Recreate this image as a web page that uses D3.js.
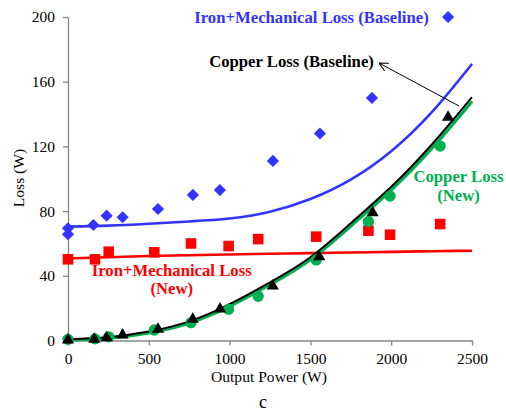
<!DOCTYPE html>
<html>
<head>
<meta charset="utf-8">
<script src="https://cdn.jsdelivr.net/npm/d3@7"></script>
<style>
  html, body { margin: 0; padding: 0; background: #fff; }
  svg { display: block; }
</style>
</head>
<body>
<svg id="chart" width="506" height="413"></svg>
<script>
// ---- measured losses (W) against output power (W) ----
const baselinePower   = [0, 0, 157, 239, 338, 557, 773, 940, 1268, 1559, 1881, 2352];
const baselineIronMech = [69.4, 65.7, 71.4, 77.2, 76.2, 81.3, 90, 93, 111, 128, 150, 200];

const baselineCuPower = [0, 163, 239, 338, 557, 772, 941, 1267, 1555, 1885, 2352];
const baselineCopper  = [0.3, 0.8, 1.7, 3.4, 6.9, 13.1, 19.5, 33.7, 51.8, 79, 138];

const newPower    = [0, 167, 252, 534, 761, 994, 1177, 1536, 1859, 1993, 2303];
const newIronMech = [50.2, 50.2, 54.9, 54.5, 60, 58.4, 62.7, 64.2, 67.9, 65.4, 72];
const newCopper   = [0.7, 1, 2.3, 6.5, 11, 19.3, 27.3, 49.8, 73.5, 89.3, 120.2];

// ---- trend lines ----
const trendPower         = [0, 250, 500, 750, 1000, 1250, 1500, 1750, 2000, 2250, 2500];
const trendIronMechBase  = [70.4, 71.0, 72.2, 73.6, 75.4, 79.6, 87.5, 99.5, 117, 141, 171];
const trendCopperBase    = [0.8, 2.0, 5.5, 11.8, 22.5, 36, 51.5, 72.5, 95, 121, 150.5];
const trendCopperNew     = [0.4, 1.5, 4.8, 10.8, 21.2, 34.6, 50.0, 70.8, 93, 118.6, 147.8];
const trendIronMechNew   = [50.7, 51.5, 52.2, 52.7, 53.2, 53.6, 54.0, 54.4, 54.8, 55.2, 55.5];

const xTicks = [0, 500, 1000, 1500, 2000, 2500];
const yTicks = [0, 40, 80, 120, 160, 200];

const BLUE = "#3333ff", RED = "#ff0000", GREEN = "#00b050", BLACK = "#000000", AXIS = "#868686";
const SERIF = '"Liberation Serif", Tinos, "Times New Roman", Times, "DejaVu Serif", serif';

const svg = d3.select("#chart").attr("font-family", SERIF);
const x = d3.scaleLinear().domain([0, 2500]).range([68, 472]);
const y = d3.scaleLinear().domain([0, 200]).range([340.5, 17]);

// axes
const gx = svg.append("g").attr("transform", `translate(0,${y(0)})`)
  .call(d3.axisBottom(x).tickValues(xTicks).tickFormat(d3.format("d"))
    .tickSize(5).tickSizeOuter(0).tickPadding(7));
const gy = svg.append("g").attr("transform", `translate(${x(0)},0)`)
  .call(d3.axisLeft(y).tickValues(yTicks).tickFormat(d3.format("d"))
    .tickSize(5).tickSizeOuter(0).tickPadding(8));
[gx, gy].forEach(g => {
  g.attr("font-family", SERIF).attr("font-size", 15.5);
  g.selectAll("path, line").attr("stroke", AXIS).attr("stroke-width", 1.3);
  g.selectAll("text").attr("fill", "#000");
});

// axis titles
svg.append("text").attr("x", 269).attr("y", 382).attr("text-anchor", "middle")
  .attr("font-size", 15.6).text("Output Power (W)");
svg.append("text").attr("transform", "translate(24,178) rotate(-90)").attr("text-anchor", "middle")
  .attr("font-size", 15.6).text("Loss (W)");
svg.append("text").attr("x", 263).attr("y", 408).attr("text-anchor", "middle")
  .attr("font-size", 18).text("c");

// trend lines
const line = d3.line().x(d => x(d[0])).y(d => y(d[1])).curve(d3.curveNatural);
function trend(vals, color, width) {
  svg.append("path").datum(d3.zip(trendPower, vals))
    .attr("d", line).attr("fill", "none").attr("stroke", color).attr("stroke-width", width);
}
trend(trendIronMechBase, BLUE, 2.6);
trend(trendIronMechNew, RED, 2.6);
trend(trendCopperNew, GREEN, 3.4);
trend(trendCopperBase, BLACK, 2);

// markers
function markers(xs, ys, type, size, color, rotate) {
  svg.append("g").selectAll("path").data(d3.zip(xs, ys)).join("path")
    .attr("transform", d => `translate(${x(d[0])},${y(d[1])})` + (rotate ? ` rotate(${rotate})` : ""))
    .attr("d", d3.symbol().type(type).size(size))
    .attr("fill", color);
}
markers(baselinePower, baselineIronMech, d3.symbolSquare, 74, BLUE, 45);
markers(newPower, newIronMech, d3.symbolSquare, 112, RED);
markers(newPower, newCopper, d3.symbolCircle, 100, GREEN);
markers(baselineCuPower, baselineCopper, d3.symbolTriangle, 64, BLACK);

// annotations
function label(lines, cx, cy, color) {
  const t = svg.append("text").attr("text-anchor", "middle")
    .attr("font-size", 16.7).attr("font-weight", "bold").attr("fill", color);
  lines.forEach((s, i) => t.append("tspan").attr("x", cx).attr("y", cy + i * 18.8).text(s));
}
label(["Iron+Mechanical Loss (Baseline)"], 311.5, 22.5, BLUE);
label(["Copper Loss (Baseline)"], 291.5, 67, BLACK);
label(["Copper Loss", "(New)"], 458.5, 182, GREEN);
label(["Iron+Mechanical Loss", "(New)"], 171.7, 275.5, RED);

// pointer from the baseline copper label to its curve
svg.append("defs").append("marker").attr("id", "open-arrow")
  .attr("viewBox", "0 0 10 10").attr("refX", 10).attr("refY", 5)
  .attr("markerWidth", 9).attr("markerHeight", 9).attr("markerUnits", "userSpaceOnUse")
  .attr("orient", "auto")
  .append("path").attr("d", "M0,0 L10,5 L0,10").attr("fill", "none")
  .attr("stroke", "#000").attr("stroke-width", 1.2);
svg.append("line").attr("x1", 459).attr("y1", 106).attr("x2", 379).attr("y2", 63)
  .attr("stroke", "#000").attr("stroke-width", 1).attr("marker-end", "url(#open-arrow)");
</script>
</body>
</html>
